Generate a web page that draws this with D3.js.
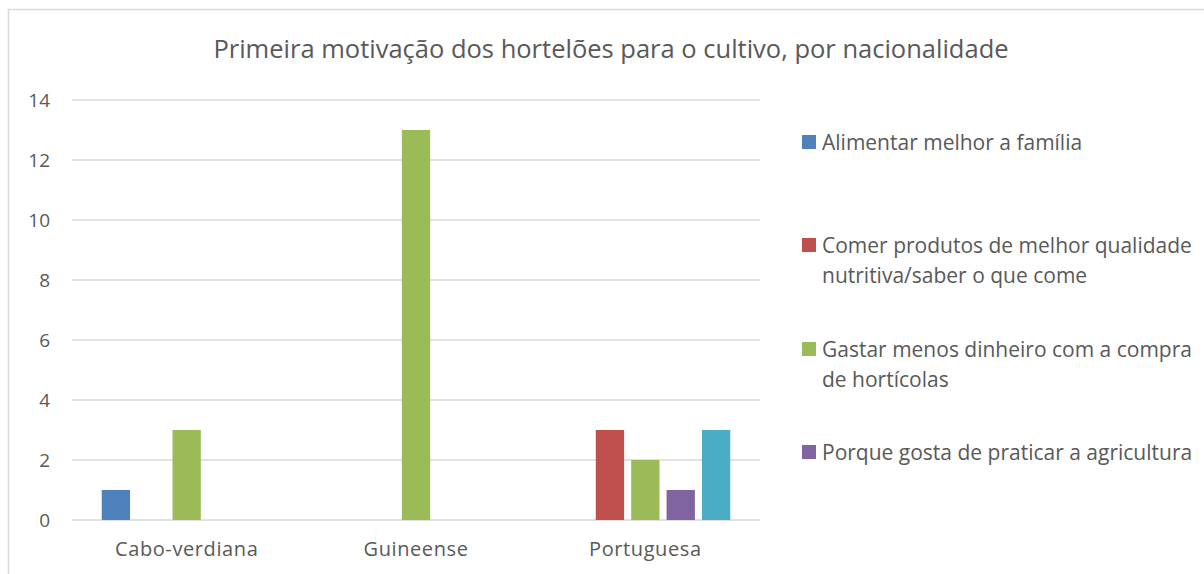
<html>
<head>
<script src="https://d3js.org/d3.v7.min.js"></script>
<style>
  body { margin: 0; background: white; }
  text { font-family: "Open Sans", sans-serif; fill: #595959; }
</style>
</head>
<body>
<svg width="1204" height="574"></svg>
<script>
// chart data
var categories = ["Cabo-verdiana", "Guineense", "Portuguesa"];
var seriesNames = [
  "Alimentar melhor a família",
  "Comer produtos de melhor qualidade nutritiva/saber o que come",
  "Gastar menos dinheiro com a compra de hortícolas",
  "Porque gosta de praticar a agricultura",
  "Outro motivo"
];
var legendLines = [
  ["Alimentar melhor a família"],
  ["Comer produtos de melhor qualidade", "nutritiva/saber o que come"],
  ["Gastar menos dinheiro com a compra", "de hortícolas"],
  ["Porque gosta de praticar a agricultura"]
];
// values per series, in order of categories
var alimentar = [1, 0, 0];
var comer = [0, 0, 3];
var gastar = [3, 13, 2];
var gosta = [0, 0, 1];
var outro = [0, 0, 3];
var yTicks = [0, 2, 4, 6, 8, 10, 12, 14];
var colors = ["#4F81BD", "#C0504D", "#9BBB59", "#8064A2", "#4BACC6"];

var seriesValues = [alimentar, comer, gastar, gosta, outro];

var svg = d3.select("svg");
var plotLeft = 72, plotRight = 760, plotTop = 100, plotBottom = 520;

// outer frame (chart area border)
svg.append("rect")
  .attr("x", 8.5).attr("y", 9.5)
  .attr("width", 1300).attr("height", 700)
  .attr("fill", "white").attr("stroke", "#D9D9D9").attr("stroke-width", 1.5);

svg.append("text")
  .attr("x", 611).attr("y", 58)
  .attr("text-anchor", "middle")
  .style("font-size", "25.5px")
  .text("Primeira motivação dos hortelões para o cultivo, por nacionalidade");

var x = d3.scaleBand().domain(categories).range([plotLeft, plotRight]).padding(0);
var xs = d3.scaleBand().domain(d3.range(seriesNames.length))
  .range([0, x.bandwidth()]).paddingInner(0.2).paddingOuter(0.84);
var y = d3.scaleLinear().domain([0, 14]).range([plotBottom, plotTop]);

// gridlines
svg.append("g")
  .selectAll("line").data(yTicks).enter()
  .append("line")
  .attr("x1", plotLeft).attr("x2", plotRight)
  .attr("y1", d => y(d)).attr("y2", d => y(d))
  .attr("stroke", "#D9D9D9").attr("stroke-width", 1.5);

// y labels
var yAxis = svg.append("g").attr("transform", "translate(50,0)")
  .call(d3.axisLeft(y).tickValues(yTicks).tickSize(0).tickPadding(0));
yAxis.select(".domain").remove();
yAxis.selectAll("text").style("font-size", "19px").style("font-family", "Open Sans, sans-serif").attr("fill", "#595959");

// x labels
var xAxis = svg.append("g").attr("transform", "translate(0," + plotBottom + ")")
  .call(d3.axisBottom(x).tickSize(0).tickPadding(22));
xAxis.select(".domain").remove();
xAxis.selectAll("text").style("font-size", "20px").style("letter-spacing", "0.6px")
  .style("font-family", "Open Sans, sans-serif").attr("fill", "#595959");

// bars
svg.append("g").selectAll("g").data(seriesValues).enter()
  .append("g").attr("fill", (d, i) => colors[i])
  .each(function(vals, si) {
    d3.select(this).selectAll("rect")
      .data(vals.map((v, ci) => ({cat: categories[ci], v: v})).filter(d => d.v > 0))
      .enter().append("rect")
      .attr("x", d => x(d.cat) + xs(si))
      .attr("width", xs.bandwidth())
      .attr("y", d => y(d.v))
      .attr("height", d => y(0) - y(d.v));
  });

// legend
var legendY = [142, 245, 349, 452];
var leg = svg.append("g").selectAll("g").data(legendLines).enter()
  .append("g").attr("transform", (d, i) => "translate(802," + legendY[i] + ")");
leg.append("rect").attr("x", 0).attr("y", -7).attr("width", 14).attr("height", 14)
  .attr("fill", (d, i) => colors[i]);
leg.each(function(lines) {
  d3.select(this).selectAll("text").data(lines).enter()
    .append("text")
    .attr("x", 20).attr("y", (d, j) => j * 30)
    .attr("dy", "0.36em")
    .style("font-size", "21px")
    .text(d => d);
});
</script>
</body>
</html>
